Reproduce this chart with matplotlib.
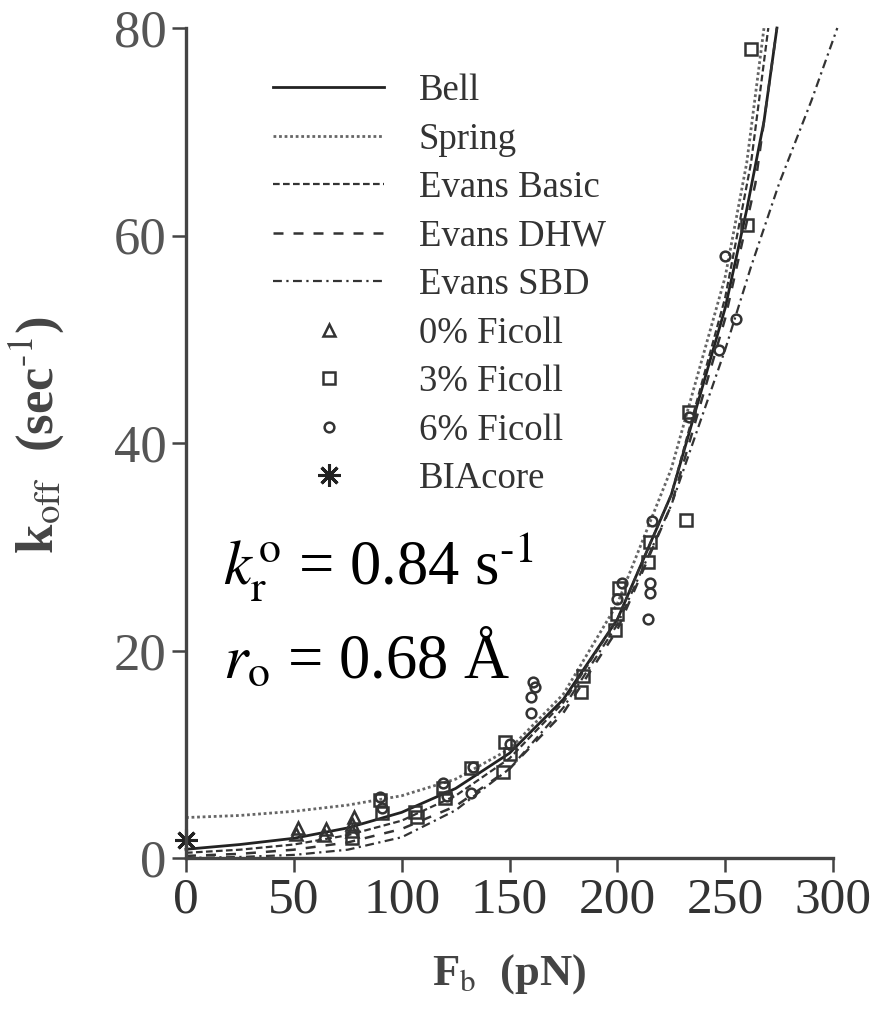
import matplotlib
matplotlib.use("Agg")
import matplotlib.pyplot as plt

plt.rcParams['font.family'] = ['Liberation Serif', 'DejaVu Serif']
plt.rcParams['mathtext.fontset'] = 'stix'

# model curves: force (pN) -> k_off (1/s)
bell_F = [0, 25, 50, 75, 100, 125, 150, 175, 200, 225, 250, 260, 268, 274]
bell_k = [0.84, 1.3, 1.9, 2.9, 4.4, 6.7, 10.1, 15.3, 23, 35, 53, 62.5, 71, 80]

spring_F = [0, 25, 50, 75, 100, 125, 150, 175, 200, 225, 250, 260, 268]
spring_k = [3.9, 4.1, 4.5, 5.1, 6.0, 7.6, 10.5, 15.8, 24.5, 37.5, 56, 67, 80]

basic_F = [0, 25, 50, 75, 100, 125, 150, 175, 200, 225, 250, 262, 270]
basic_k = [0.5, 0.8, 1.3, 2.2, 3.6, 6.0, 9.6, 15.0, 23, 35, 54, 67, 80]

dhw_F = [0, 25, 50, 75, 100, 125, 150, 175, 200, 225, 250, 264, 274]
dhw_k = [0.2, 0.4, 0.8, 1.5, 2.8, 5.0, 8.6, 14.0, 22, 34, 52, 65, 80]

sbd_F = [0, 25, 50, 75, 100, 125, 150, 175, 200, 225, 250, 262, 275, 290, 302]
sbd_k = [0.0, 0.1, 0.3, 0.8, 2.0, 4.6, 8.6, 14.5, 22.5, 34, 49, 57, 65, 73, 80]

# measurements
tri_F = [51, 52, 64, 65, 77, 77, 78]
tri_k = [2.3, 2.9, 2.2, 2.8, 2.6, 3.3, 4.0]

sq_F = [77, 90, 91, 106, 107, 119, 120, 132, 147, 148, 150, 183, 184,
        199, 200, 201, 214, 215, 232, 233, 260, 262]
sq_k = [1.9, 5.6, 4.3, 4.4, 4.0, 6.7, 5.8, 8.7, 8.3, 11.2, 10.0, 16.0, 17.5,
        22.0, 23.5, 26.0, 28.5, 30.5, 32.6, 43.0, 61.0, 78.0]

circ_F = [90, 91, 119, 121, 132, 133, 150, 160, 160, 161, 162, 200, 202,
          214, 215, 215, 216, 233, 247, 250, 255]
circ_k = [5.9, 4.8, 7.2, 6.0, 6.3, 8.8, 11.0, 14.0, 15.5, 17.0, 16.5, 25.0, 26.5,
          23.0, 25.5, 26.5, 32.5, 42.5, 49.0, 58.0, 52.0]

bia_F = [0]
bia_k = [1.7]

x_ticks = [0, 50, 100, 150, 200, 250, 300]
y_ticks = [0, 20, 40, 60, 80]

fig = plt.figure(figsize=(8.83, 10.17), dpi=100)
ax = fig.add_axes([186 / 883, 159 / 1017, 647 / 883, 830 / 1017])

ax.plot(bell_F, bell_k, '-', color='#222222', lw=2.0, label='Bell', clip_on=False)
ax.plot(spring_F, spring_k, color='#666666', lw=2.0, ls=(0, (1, 1)), label='Spring')
ax.plot(basic_F, basic_k, color='#333333', lw=1.6, ls=(0, (3, 1.5)), label='Evans Basic')
ax.plot(dhw_F, dhw_k, color='#333333', lw=1.8, ls=(0, (4, 4)), label='Evans DHW')
ax.plot(sbd_F, sbd_k, color='#333333', lw=1.6, ls=(0, (4, 2, 1, 2)), label='Evans SBD',
        clip_on=False)

mk = dict(ls='none', ms=8, mew=1.8, mfc='none', mec='#333333')
ax.plot(tri_F, tri_k, marker='^', label='0% Ficoll', **mk)
ax.plot(sq_F, sq_k, marker='s', label='3% Ficoll', **mk)
ax.plot(circ_F, circ_k, marker='o', label='6% Ficoll', ls='none', ms=7,
        mew=1.8, mfc='none', mec='#333333')
ax.plot(bia_F, bia_k, marker=(8, 2, 0), ls='none', ms=16, mew=2.2,
        color='#222222', label='BIAcore', clip_on=False)

ax.set_xlim(0, 300)
ax.set_ylim(0, 80)
ax.set_xticks(x_ticks)
ax.set_yticks(y_ticks)

for s in ['top', 'right']:
    ax.spines[s].set_visible(False)
for s in ['left', 'bottom']:
    ax.spines[s].set_linewidth(2.4)
    ax.spines[s].set_color('#444444')

ax.tick_params(axis='both', length=10, width=1.8, color='#444444', direction='out')
ax.tick_params(axis='x', labelsize=37, labelcolor='#333333', pad=4)
ax.tick_params(axis='y', labelsize=38, labelcolor='#555555', pad=4)

ax.set_xlabel(r'F$_{\rm b}$  (pN)', fontsize=32, color='#444444', fontweight='bold')
ax.xaxis.set_label_coords(0.5, -0.113)
ax.set_ylabel(r'k$_{\rm off}$  (sec$^{\text{-}1}$)', fontsize=38, color='#444444',
              fontweight='bold')
ax.yaxis.set_label_coords(-0.185, 0.51)

leg = ax.legend(loc='upper left', bbox_to_anchor=(0.135, 0.945), frameon=False,
                fontsize=26.5, handlelength=3.0, handletextpad=0.95,
                labelspacing=0.38, borderpad=0, borderaxespad=0, numpoints=1)
for t in leg.get_texts():
    t.set_color('#333333')

ax.text(0.057, 0.329, r'$k_{\rm r}^{\rm o}$ = 0.84 s$^{\text{-}1}$', transform=ax.transAxes,
        fontsize=45, va='baseline', ha='left', color='black')
ax.text(0.057, 0.217, r'$r_{\rm o}$ = 0.68 Å', transform=ax.transAxes,
        fontsize=45, va='baseline', ha='left', color='black')

fig.savefig('out.png', dpi=100)
